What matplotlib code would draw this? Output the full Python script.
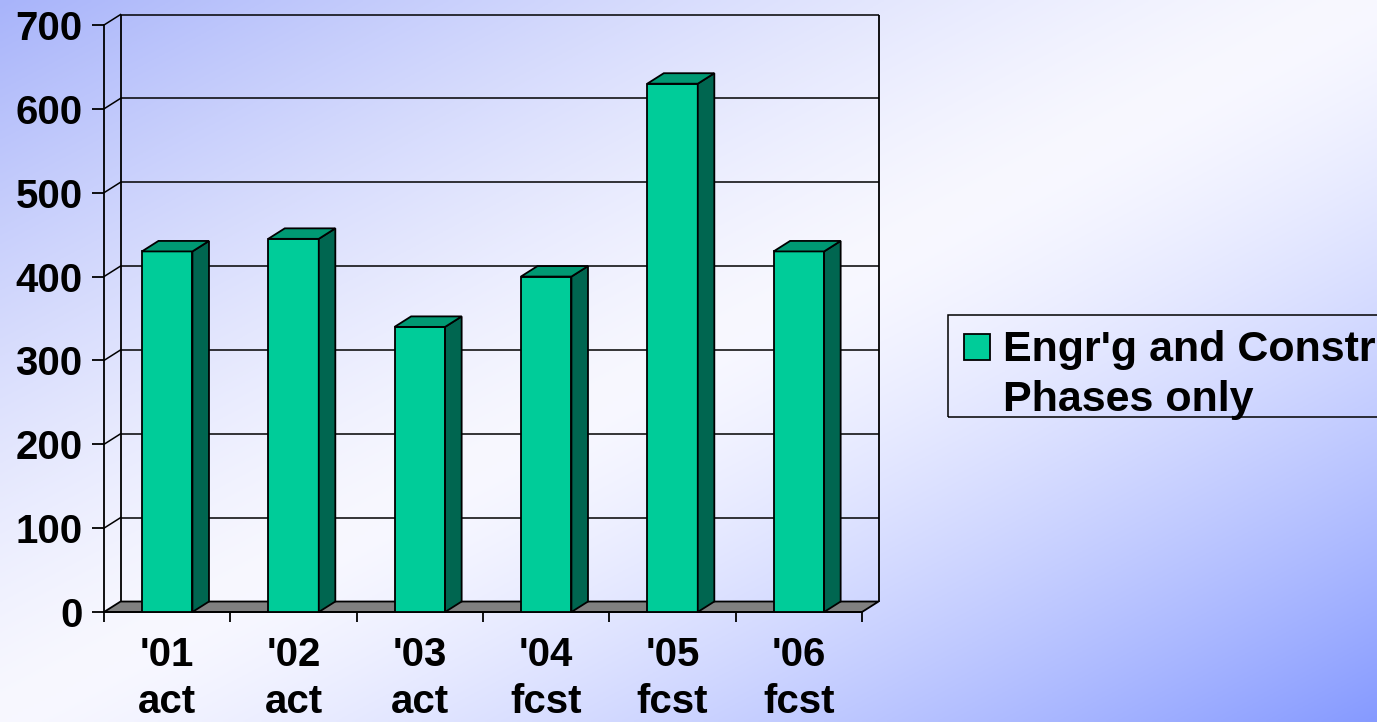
import numpy as np
import matplotlib.pyplot as plt
from matplotlib.patches import Polygon, Rectangle

# data
categories = ["'01\nact", "'02\nact", "'03\nact", "'04\nfcst", "'05\nfcst", "'06\nfcst"]
values = [430, 445, 340, 400, 630, 430]
y_ticks = [0, 100, 200, 300, 400, 500, 600, 700]
series_name = "Engr'g and Construction\nPhases only"

# colours
FRONT = '#00CC99'
TOP = '#009973'
SIDE = '#006650'
FLOOR = '#808080'

W, H = 1377, 722
DX, DY = 0.131, 12.5   # depth of the fake 3d box (data units)
BAR_W = 0.4

plt.rcParams['font.family'] = ['Liberation Sans', 'DejaVu Sans']
plt.rcParams['font.weight'] = 'bold'

fig = plt.figure(figsize=(W / 100, H / 100), dpi=100)

# diagonal blue-white-blue background
bg = fig.add_axes([0, 0, 1, 1], zorder=0)
xx, yy = np.meshgrid(np.linspace(0, 1, 500), np.linspace(0, 1, 260))
t = (xx + yy) / 2
s = np.abs(2 * t - 1) ** 1.35
white = np.array([248, 248, 255]) / 255
c_tl = np.array([168, 180, 250]) / 255
c_br = np.array([134, 154, 255]) / 255
end = np.where((t < 0.5)[..., None], c_tl, c_br)
img = white + s[..., None] * (end - white)
bg.imshow(img, extent=[0, 1, 0, 1], aspect='auto', origin='upper')
bg.axis('off')

# main axes = front plane of the chart
ax = fig.add_axes([104 / W, 1 - 612 / H, (862 - 104) / W, (612 - 25) / H], zorder=1)
ax.set_facecolor('none')
n = len(values)
ax.set_xlim(0, n)
ax.set_ylim(0, y_ticks[-1])
for side in ['top', 'right']:
    ax.spines[side].set_visible(False)
for side in ['left', 'bottom']:
    ax.spines[side].set_linewidth(1.3)

# back wall, side wall and floor
ax.hlines([v + DY for v in y_ticks[1:]], DX, n + DX, colors='black', lw=1.1, zorder=1, clip_on=False)
ax.vlines([DX, n + DX], DY, y_ticks[-1] + DY, colors='black', lw=1.3, zorder=1, clip_on=False)
for v in y_ticks[1:]:
    ax.plot([0, DX], [v, v + DY], color='black', lw=1.1, zorder=1, clip_on=False)
ax.add_patch(Polygon([(0, 0), (n, 0), (n + DX, DY), (DX, DY)], closed=True,
                     facecolor=FLOOR, edgecolor='black', lw=1.3, zorder=2, clip_on=False))

# bars
x = np.arange(n) + 0.5
ax.bar(x, values, width=BAR_W, color=FRONT, edgecolor='black', lw=1.3, zorder=4)
for xi, v in zip(x, values):
    l, r = xi - BAR_W / 2, xi + BAR_W / 2
    ax.add_patch(Polygon([(r, 0), (r + DX, DY), (r + DX, v + DY), (r, v)], closed=True,
                         facecolor=SIDE, edgecolor='black', lw=1.3, zorder=4, clip_on=False))
    ax.add_patch(Polygon([(l, v), (r, v), (r + DX, v + DY), (l + DX, v + DY)], closed=True,
                         facecolor=TOP, edgecolor='black', lw=1.3, zorder=4, clip_on=False))

# ticks
ax.set_yticks(y_ticks)
ax.tick_params(axis='y', length=8.5, width=1.3, pad=7, labelsize=29)
ax.set_xticks(range(n + 1))
ax.tick_params(axis='x', which='major', length=7.5, width=1.3, labelbottom=False)
ax.set_xticks(x, categories, minor=True)
ax.tick_params(axis='x', which='minor', length=0, pad=17, labelsize=29)
for lbl in ax.get_xticklabels(minor=True):
    lbl.set_linespacing(1.3)

# legend (drawn by hand, it runs off the right edge like the original)
fig.add_artist(Rectangle((948 / W, 1 - 417 / H), (1400 - 948) / W, 102 / H,
                         transform=fig.transFigure, fill=False, edgecolor='black', lw=1.1))
fig.add_artist(Rectangle((964 / W, 1 - 360 / H), 26 / W, 26 / H,
                         transform=fig.transFigure, facecolor=FRONT, edgecolor='black', lw=1.3))
fig.text(1003 / W, 1 - 330 / H, series_name, ha='left', va='top', fontsize=31,
         fontweight='bold', linespacing=1.31)

fig.savefig('out.png', dpi=100)
